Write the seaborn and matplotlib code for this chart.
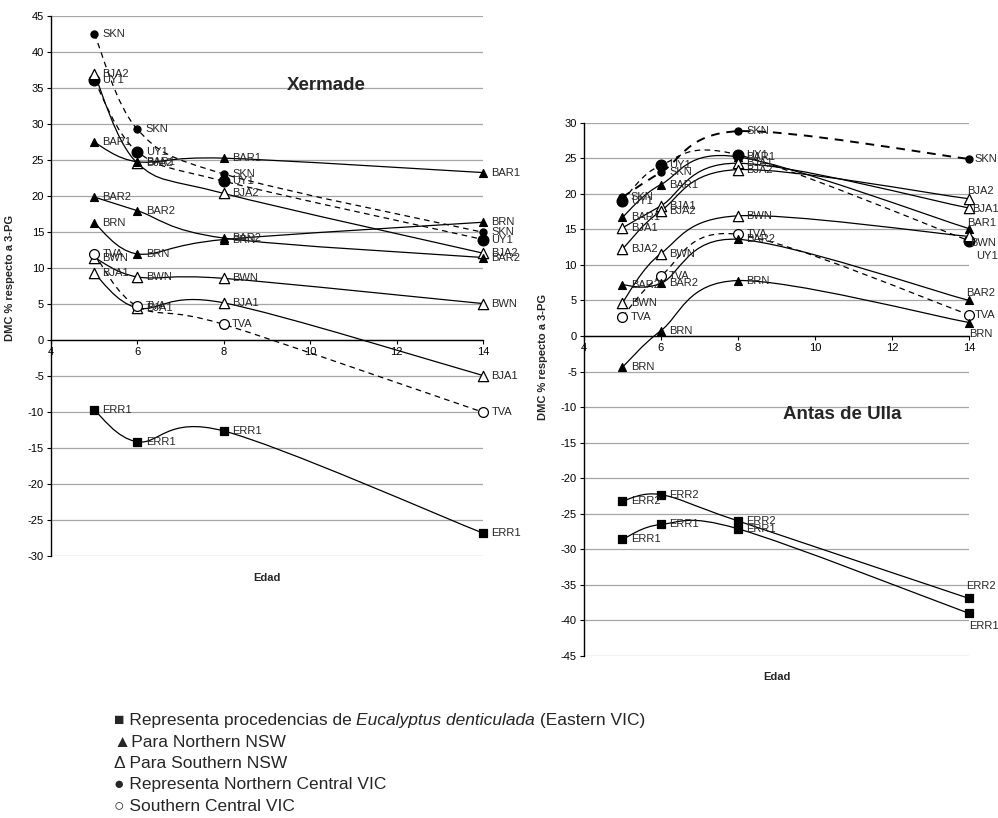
import numpy as np
import pandas as pd
import seaborn as sns
import matplotlib.pyplot as plt
from matplotlib.path import Path
from matplotlib.patches import PathPatch

# ages (years)
ages = [5, 6, 8, 14]

# Xermade: DMC % with respect to 3-PG
xer_SKN = [42.6, 29.3, 23.1, 15.0]
xer_UY1 = [36.1, 26.2, 22.1, 14.0]
xer_BJA2 = [37.0, 24.6, 20.4, 12.1]
xer_BAR1 = [27.5, 24.8, 25.3, 23.3]
xer_BAR2 = [19.9, 18.0, 14.2, 11.5]
xer_BRN = [16.3, 12.0, 14.0, 16.4]
xer_BWN = [11.5, 8.8, 8.6, 5.1]
xer_BJA1 = [9.3, 4.5, 5.2, -4.9]
xer_TVA = [12.0, 4.7, 2.2, -10.0]
xer_ERR1 = [-9.7, -14.1, -12.6, -26.8]

# Antas de Ulla
ant_SKN = [19.5, 23.0, 28.8, 24.9]
ant_UY1 = [19.0, 24.0, 25.5, 13.4]
ant_BAR1 = [16.7, 21.3, 25.2, 15.1]
ant_BJA1 = [15.2, 18.3, 24.3, 18.0]
ant_BJA2 = [12.2, 17.6, 23.4, 19.3]
ant_BWN = [4.7, 11.6, 16.9, 14.0]
ant_TVA = [2.7, 8.5, 14.3, 3.0]
ant_BAR2 = [7.2, 7.4, 13.6, 5.0]
ant_BRN = [-4.4, 0.75, 7.8, 1.9]
ant_ERR2 = [-23.2, -22.3, -26.0, -36.9]
ant_ERR1 = [-28.6, -26.5, -27.1, -39.0]

xer = {"SKN": xer_SKN, "UY1": xer_UY1, "BJA2": xer_BJA2, "BAR1": xer_BAR1,
       "BAR2": xer_BAR2, "BRN": xer_BRN, "BWN": xer_BWN, "BJA1": xer_BJA1,
       "TVA": xer_TVA, "ERR1": xer_ERR1}
ant = {"SKN": ant_SKN, "UY1": ant_UY1, "BAR1": ant_BAR1, "BJA1": ant_BJA1,
       "BJA2": ant_BJA2, "BWN": ant_BWN, "TVA": ant_TVA, "BAR2": ant_BAR2,
       "BRN": ant_BRN, "ERR2": ant_ERR2, "ERR1": ant_ERR1}

rows = []
for site, d in [("Xermade", xer), ("Antas de Ulla", ant)]:
    for code, vals in d.items():
        for a, v in zip(ages, vals):
            rows.append((site, code, a, v))
df = pd.DataFrame(rows, columns=["site", "code", "edad", "dmc"])

# marker style per provenance group: (marker, face, size)
def marker_style(code):
    if code.startswith("ERR"):
        return "s", "black", 30
    if code in ("BAR1", "BAR2", "BRN"):
        return "^", "black", 32
    if code in ("BJA1", "BJA2", "BWN"):
        return "^", "white", 55
    if code == "SKN":
        return "o", "black", 26
    if code == "UY1":
        return "o", "black", 60
    return "o", "white", 50  # TVA

def smooth_path(x, y):
    # excel-like smoothed line (catmull-rom -> bezier)
    pts = np.column_stack([x, y]).astype(float)
    n = len(pts)
    verts = [pts[0]]
    codes = [Path.MOVETO]
    for i in range(n - 1):
        p0 = pts[max(i - 1, 0)]
        p1 = pts[i]
        p2 = pts[i + 1]
        p3 = pts[min(i + 2, n - 1)]
        verts += [p1 + (p2 - p0) / 6, p2 - (p3 - p1) / 6, p2]
        codes += [Path.CURVE4] * 3
    return Path(verts, codes)

sns.set_theme(style="white")
FONT = ["Liberation Sans", "DejaVu Sans"]
plt.rcParams["font.family"] = FONT
plt.rcParams["axes.unicode_minus"] = False

fig = plt.figure(figsize=(9.98, 8.18), dpi=100)
ax1 = fig.add_axes([0.0511, 0.320, 0.433, 0.660])
ax2 = fig.add_axes([0.585, 0.198, 0.386, 0.652])

# label offsets (points) for crowded end points in Antas de Ulla
ant_offsets = {("BJA2", 14): (-1.5, 5.5), ("BAR1", 14): (-1.5, 4.0),
               ("BWN", 14): (0.5, -4.5), ("UY1", 14): (5, -11),
               ("BAR2", 14): (-2, 5.5), ("BRN", 14): (0, -8),
               ("ERR2", 14): (-2, 9), ("ERR1", 14): (0, -9),
               ("SKN", 14): (4, 0), ("BJA1", 14): (2.5, -1), ("TVA", 14): (4, 0)}

def draw_site(ax, site, ylim, title, title_xy, offsets):
    sub = df[df.site == site]
    for code, g in sub.groupby("code", sort=False):
        dashed = code in ("SKN", "UY1", "TVA")
        lw = 1.4 if (code == "SKN" and site == "Antas de Ulla") else 0.9
        ls = (0, (4.5, 3.5)) if dashed else "-"
        patch = PathPatch(smooth_path(g.edad, g.dmc), facecolor="none",
                          edgecolor="black", lw=lw, linestyle=ls, zorder=2)
        ax.add_patch(patch)
        m, face, s = marker_style(code)
        sns.scatterplot(x=g.edad, y=g.dmc, marker=m, s=s, color=face,
                        edgecolor="black", linewidth=0.9, ax=ax, zorder=3,
                        clip_on=False, legend=False)
        for a, v in zip(g.edad, g.dmc):
            dx, dy = offsets.get((code, a), (6, 0))
            ax.annotate(code, (a, v), xytext=(dx, dy), textcoords="offset points",
                        ha="left", va="center", fontsize=8, annotation_clip=False,
                        zorder=4)
    ax.set_xlim(4, 14)
    ax.set_ylim(*ylim)
    ax.set_xticks([4, 6, 8, 10, 12, 14])
    ax.set_yticks(np.arange(ylim[0], ylim[1] + 1, 5))
    ax.yaxis.grid(True, color="#a6a6a6", lw=0.9)
    ax.xaxis.grid(False)
    ax.set_axisbelow(True)
    for sp in ("top", "right"):
        ax.spines[sp].set_visible(False)
    ax.spines["bottom"].set_position(("data", 0))
    ax.spines["bottom"].set_color("black")
    ax.spines["left"].set_color("black")
    ax.spines["bottom"].set_linewidth(1.0)
    ax.spines["left"].set_linewidth(1.0)
    ax.tick_params(axis="both", direction="out", length=3, width=0.8,
                   labelsize=8, pad=2, colors="black")
    ax.tick_params(axis="both", bottom=True, left=True)
    ax.set_xlabel("")
    ax.set_ylabel("DMC % respecto a 3-PG", fontsize=8, fontweight="bold")
    ax.text(0.5, -0.04, "Edad", transform=ax.transAxes, ha="center", va="center",
            fontsize=8, fontweight="bold")
    ax.text(title_xy[0], title_xy[1], title, ha="center", va="center",
            fontsize=13.5, fontweight="bold")

draw_site(ax1, "Xermade", (-30, 45), "Xermade", (10.37, 35.4), {})
draw_site(ax2, "Antas de Ulla", (-45, 30), "Antas de Ulla", (10.7, -11.1), ant_offsets)
ax1.yaxis.set_label_coords(-0.083, 0.515)
ax2.yaxis.set_label_coords(-0.094, 0.56)

# notes below the charts
renderer = fig.canvas.get_renderer()
notes = [
    [("■ Representa procedencias de ", "normal"), ("Eucalyptus denticulada", "italic"),
     (" (Eastern VIC)", "normal")],
    [("▲Para Northern NSW", "normal")],
    [("Δ Para Southern NSW", "normal")],
    [("● Representa Northern Central VIC", "normal")],
    [("○ Southern Central VIC", "normal")],
]
y = 1 - 721 / 818
for parts in notes:
    x = 0.114
    for txt, st in parts:
        t = fig.text(x, y, txt, fontsize=12.5, style=st, family=FONT, va="center")
        x = t.get_window_extent(renderer).x1 / fig.bbox.width
    y -= 21.3 / 818

fig.savefig("out.png", dpi=100)
